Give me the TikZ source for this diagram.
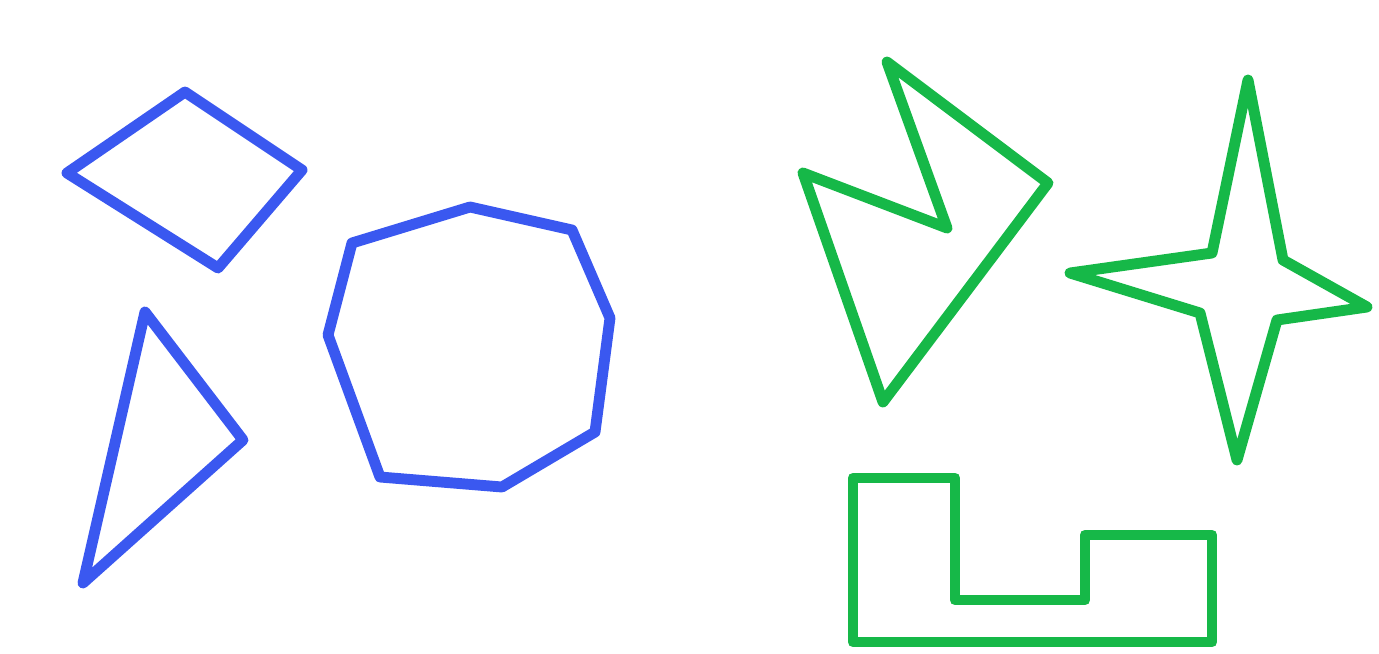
\documentclass[tikz,border=0pt]{standalone}
\usepackage{tikz}
\usetikzlibrary{calc}
\usepackage{xcolor}
\definecolor{convexblue}{RGB}{58,88,240}
\definecolor{concavegreen}{RGB}{22,184,72}

\begin{document}
\begin{tikzpicture}[x=0.02cm,y=-0.02cm,
  convex/.style={draw=convexblue,line width=6.2pt,line join=round},
  concave/.style={draw=concavegreen,line width=6.2pt,line join=round}]
\useasboundingbox (0,0) rectangle (1379,653);
% convex polygons
\draw[convex] (67,173) -- (185,92) -- (302,170) -- (218,268) -- cycle;
\draw[convex] (145,312) -- (243,440) -- (83,583) -- cycle;
\draw[convex] (352,243) -- (470,207) -- (572,230) -- (610,318) -- (595,432)
  -- (502,487) -- (380,477) -- (328,335) -- cycle;
% non-convex polygons
\draw[concave] (887,62) -- (1048,183) -- (883,402) -- (803,173) -- (947,228) -- cycle;
\draw[concave] (1248,80) -- (1283,260) -- (1367,307) -- (1277,320) -- (1237,460)
  -- (1200,313) -- (1070,273) -- (1212,253) -- cycle;
\draw[concave] (853,478) -- (955,478) -- (955,600) -- (1085,600) -- (1085,535)
  -- (1212,535) -- (1212,642) -- (853,642) -- cycle;
\end{tikzpicture}
\end{document}
